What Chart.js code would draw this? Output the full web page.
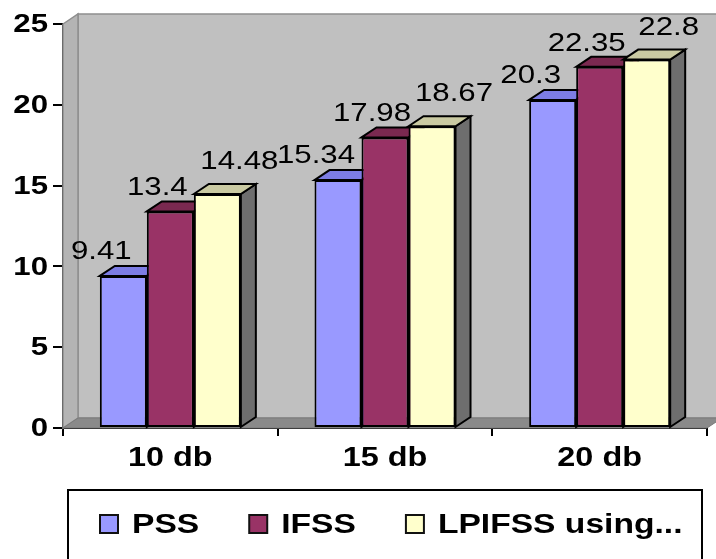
<!DOCTYPE html>
<html>
<head>
<meta charset="utf-8">
<script src="https://cdn.jsdelivr.net/npm/chart.js@4.4.1/dist/chart.umd.min.js"></script>
<style>
  html, body { margin: 0; padding: 0; background: #ffffff; }
  #wrap { width: 716px; height: 559px; position: relative; }
</style>
</head>
<body>
<div id="wrap"><canvas id="c"></canvas></div>
<script>
// Chart values
const categories = ['10 db', '15 db', '20 db'];
const seriesNames = ['PSS', 'IFSS', 'LPIFSS using...'];
const pssValues = [9.41, 15.34, 20.3];
const ifssValues = [13.4, 17.98, 22.35];
const lpifssValues = [14.48, 18.67, 22.8];
const yTickValues = [0, 5, 10, 15, 20, 25];

const FONT = "'Liberation Sans', Arial, sans-serif";
const DX = 15, DY = 10;   // depth of the 3D projection
const WIDE = 1.2;         // horizontal widening of all text

// face colours and value-label placement for each series
const seriesStyle = [
  { front: '#9999FF', top: '#7D7DE4', side: '#5F5FB5', lx: -22, ly: -17 },
  { front: '#993366', top: '#7A2950', side: '#5C1F3D', lx: -13, ly: -16 },
  { front: '#FFFFCC', top: '#CACAA2', side: '#6E6E6E', lx: 22, ly: -25 }
];

function poly(ctx, pts, fill, stroke, lw) {
  ctx.beginPath();
  ctx.moveTo(pts[0][0], pts[0][1]);
  for (let i = 1; i < pts.length; i++) ctx.lineTo(pts[i][0], pts[i][1]);
  ctx.closePath();
  if (fill) { ctx.fillStyle = fill; ctx.fill(); }
  if (stroke) { ctx.strokeStyle = stroke; ctx.lineWidth = lw || 1; ctx.stroke(); }
}

// text drawn with a slightly widened face
function wideText(ctx, text, x, y, align) {
  ctx.save();
  ctx.translate(x, y);
  ctx.scale(WIDE, 1);
  ctx.textAlign = align;
  ctx.fillText(text, 0, 0);
  ctx.restore();
}

const depthPlugin = {
  id: 'depth',
  // walls, floor and the top/side faces of the bars, behind the front faces
  beforeDatasetsDraw(chart) {
    const ctx = chart.ctx;
    const { left, right, top, bottom } = chart.chartArea;
    ctx.save();
    poly(ctx, [[left + DX, top - DY], [right + DX, top - DY], [right + DX, bottom - DY], [left + DX, bottom - DY]], '#C0C0C0', '#8E8E8E', 1.5);
    poly(ctx, [[left, top], [left + DX, top - DY], [left + DX, bottom - DY], [left, bottom]], '#B4B4B4', '#8E8E8E', 1.5);
    poly(ctx, [[left, bottom], [left + DX, bottom - DY], [right + DX, bottom - DY], [right, bottom]], '#8A8A8A', '#7A7A7A', 1);

    const n = chart.data.labels.length;
    for (let j = 0; j < n; j++) {
      chart.data.datasets.forEach((ds, i) => {
        const el = chart.getDatasetMeta(i).data[j];
        const p = el.getProps(['x', 'y', 'base', 'width'], true);
        const L = p.x - p.width / 2, R = p.x + p.width / 2;
        const st = seriesStyle[i];
        poly(ctx, [[R, p.y], [R + DX, p.y - DY], [R + DX, p.base - DY], [R, p.base]], st.side, '#000', 2);
        poly(ctx, [[L, p.y], [L + DX, p.y - DY], [R + DX, p.y - DY], [R, p.y]], st.top, '#000', 2);
      });
    }
    ctx.restore();
  },
  // value labels above the bars
  afterDatasetsDraw(chart) {
    const ctx = chart.ctx;
    ctx.save();
    ctx.font = '26px ' + FONT;
    ctx.fillStyle = '#000';
    ctx.textBaseline = 'alphabetic';
    chart.data.datasets.forEach((ds, i) => {
      chart.getDatasetMeta(i).data.forEach((el, j) => {
        const p = el.getProps(['x', 'y'], true);
        const st = seriesStyle[i];
        wideText(ctx, String(ds.data[j]), p.x + st.lx, p.y + st.ly, 'center');
      });
    });
    ctx.restore();
  },
  afterDraw(chart) {
    const ctx = chart.ctx;
    const xs = chart.scales.x, ys = chart.scales.y;
    ctx.save();
    ctx.fillStyle = '#000';
    ctx.textBaseline = 'middle';
    // axis tick labels
    ctx.font = 'bold 26px ' + FONT;
    ys.ticks.forEach((t, i) => {
      wideText(ctx, String(t.value), xs.left - 15, ys.getPixelForTick(i) + 1, 'right');
    });
    ctx.font = 'bold 27px ' + FONT;
    chart.data.labels.forEach((lab, i) => {
      wideText(ctx, lab, xs.getPixelForTick(i), ys.bottom + 31, 'center');
    });

    // framed legend below the axis
    ctx.lineWidth = 2;
    ctx.strokeStyle = '#000';
    ctx.strokeRect(68, 490, 634, 90);
    ctx.font = 'bold 28px ' + FONT;
    const cy = 524;
    let x = 100;
    chart.data.datasets.forEach((ds) => {
      ctx.fillStyle = ds.backgroundColor;
      ctx.fillRect(x, cy - 9, 18, 18);
      ctx.lineWidth = 2;
      ctx.strokeStyle = '#111';
      ctx.strokeRect(x, cy - 9, 18, 18);
      ctx.fillStyle = '#000';
      wideText(ctx, ds.label, x + 32, cy + 1, 'left');
      x += 32 + ctx.measureText(ds.label).width * WIDE + 50;
    });
    ctx.restore();
  }
};

const seriesValues = [pssValues, ifssValues, lpifssValues];

new Chart(document.getElementById('c'), {
  type: 'bar',
  data: {
    labels: categories,
    datasets: seriesNames.map((name, i) => ({
      label: name,
      data: seriesValues[i],
      backgroundColor: seriesStyle[i].front,
      borderColor: '#000',
      borderWidth: 2,
      borderSkipped: false,
      barPercentage: 1,
      categoryPercentage: 0.657
    }))
  },
  options: {
    responsive: true,
    maintainAspectRatio: false,
    animation: false,
    layout: { padding: { left: 0, right: 9, top: 24, bottom: 0 } },
    plugins: { legend: { display: false }, tooltip: { enabled: false } },
    scales: {
      x: {
        grid: { offset: true, drawOnChartArea: false, drawTicks: true, tickLength: 8, color: '#000', lineWidth: 2 },
        border: { display: true, color: '#000', width: 2 },
        ticks: { display: false },
        afterFit(s) { s.height = 131; }
      },
      y: {
        min: 0,
        max: 25,
        afterBuildTicks(s) { s.ticks = yTickValues.map(v => ({ value: v })); },
        grid: { drawOnChartArea: false, drawTicks: true, tickLength: 10, color: '#000', lineWidth: 2 },
        border: { display: true, color: '#000', width: 2 },
        ticks: { display: false },
        afterFit(s) { s.width = 63; }
      }
    }
  },
  plugins: [depthPlugin]
});
</script>
</body>
</html>
